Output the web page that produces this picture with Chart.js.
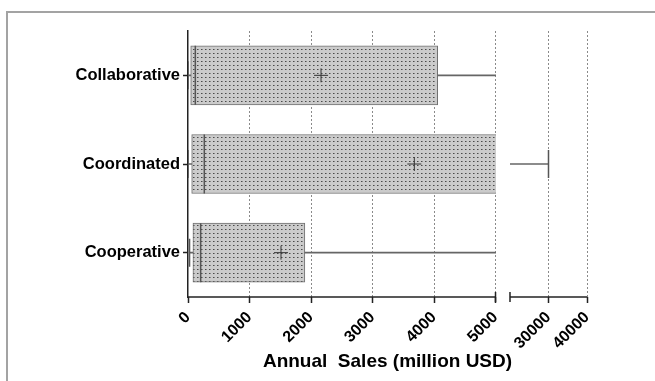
<!DOCTYPE html>
<html>
<head>
<meta charset="utf-8">
<script src="https://cdn.jsdelivr.net/npm/chart.js@4.4.1/dist/chart.umd.min.js"></script>
<style>
  html, body { margin: 0; padding: 0; background: #fff; }
  #wrap { position: relative; width: 655px; height: 381px; overflow: hidden; }
  #frame { position: absolute; left: 6px; top: 11px; width: 700px; height: 400px;
           border-left: 2px solid #a3a3a3; border-top: 2px solid #a3a3a3; }
  canvas { position: absolute; left: 0; top: 0; }
</style>
</head>
<body>
<div id="wrap">
  <div id="frame"></div>
  <canvas id="grafico" width="655" height="381"></canvas>
</div>
<script>
// dados (million USD)
const categorias = ["Collaborative", "Coordinated", "Cooperative"];
const minimos = [0, 0, 25];
const q1 = [44, 60, 80];
const medianas = [119, 265, 206];
const q3 = [4060, 9000, 1900];
const maximos = [12000, 30000, 14000];
const medias = [2163, 3680, 1512];

const tickValores = [0, 1000, 2000, 3000, 4000, 5000, 30000, 40000];
const quebra = [5000, 20000]; // eixo interrompido entre estes valores
const xMin = 0, xMax = 40000;
const fracQuebra = [0.7707, 0.807]; // fração da largura antes/depois da quebra

// escala linear com quebra
class BrokenScale extends Chart.LinearScale {
  static id = "broken";
  static defaults = { ticks: { callback: (v) => String(v) } };
  buildTicks() {
    return tickValores.map((v) => ({ value: v }));
  }
  getPixelForValue(v) {
    let f;
    if (v <= quebra[0]) f = (v - xMin) / (quebra[0] - xMin) * fracQuebra[0];
    else if (v >= quebra[1]) f = fracQuebra[1] + (v - quebra[1]) / (xMax - quebra[1]) * (1 - fracQuebra[1]);
    else f = fracQuebra[0] + (v - quebra[0]) / (quebra[1] - quebra[0]) * (fracQuebra[1] - fracQuebra[0]);
    return this.left + f * this.width;
  }
  getValueForPixel(p) {
    const f = (p - this.left) / this.width;
    if (f <= fracQuebra[0]) return xMin + f / fracQuebra[0] * (quebra[0] - xMin);
    if (f >= fracQuebra[1]) return quebra[1] + (f - fracQuebra[1]) / (1 - fracQuebra[1]) * (xMax - quebra[1]);
    return quebra[0] + (f - fracQuebra[0]) / (fracQuebra[1] - fracQuebra[0]) * (quebra[1] - quebra[0]);
  }
}
Chart.register(BrokenScale);

// textura pontilhada das caixas
function textura() {
  const c = document.createElement("canvas");
  c.width = 4; c.height = 4;
  const g = c.getContext("2d");
  g.fillStyle = "#cbcbcb";
  g.fillRect(0, 0, 4, 4);
  g.fillStyle = "#4a4a4a";
  g.fillRect(1, 1, 1, 1);
  g.fillStyle = "#888";
  g.fillRect(2, 1, 1, 1);
  return g.createPattern(c, "repeat");
}

// recorta os dados fora dos dois segmentos
const recorteQuebra = {
  id: "recorteQuebra",
  beforeDatasetsDraw(chart) {
    const x = chart.scales.x, a = chart.chartArea, ctx = chart.ctx;
    const p0 = x.getPixelForValue(quebra[0]), p1 = x.getPixelForValue(quebra[1]);
    ctx.save();
    ctx.beginPath();
    ctx.rect(a.left - 2, a.top, p0 - a.left + 2.5, a.bottom - a.top);
    ctx.rect(p1, a.top, a.right - p1 + 2, a.bottom - a.top);
    ctx.clip();
  },
  afterDatasetsDraw(chart) {
    chart.ctx.restore();
  },
};

// eixo x em dois pedaços
const eixoQuebrado = {
  id: "eixoQuebrado",
  afterDraw(chart) {
    const x = chart.scales.x, y = chart.chartArea.bottom, ctx = chart.ctx;
    ctx.save();
    ctx.strokeStyle = "#222";
    ctx.lineWidth = 1.5;
    [[xMin, quebra[0]], [quebra[1], xMax]].forEach(([a, b]) => {
      ctx.beginPath();
      ctx.moveTo(x.getPixelForValue(a), y);
      ctx.lineTo(x.getPixelForValue(b), y);
      ctx.stroke();
    });
    quebra.forEach((v) => {
      const p = x.getPixelForValue(v);
      ctx.beginPath();
      ctx.moveTo(p, y - 5);
      ctx.lineTo(p, y + 5);
      ctx.stroke();
    });
    ctx.restore();
  },
};

const pares = (a, b) => a.map((v, i) => [v, b[i]]);
const pontos = (vals) => vals.map((v, i) => ({ x: v, y: categorias[i] }));

const fonte = "'Liberation Sans', Arial, sans-serif";

new Chart(document.getElementById("grafico"), {
  type: "bar",
  data: {
    labels: categorias,
    datasets: [
      {
        type: "scatter",
        data: pontos(medias),
        pointStyle: "cross",
        radius: 7,
        borderColor: "#333",
        borderWidth: 1,
      },
      {
        type: "scatter",
        data: pontos(medianas),
        pointStyle: "line",
        rotation: 90,
        radius: 29.5,
        borderColor: "#555",
        borderWidth: 1.5,
      },
      {
        type: "scatter",
        data: pontos(minimos).concat(pontos(maximos)),
        pointStyle: "line",
        rotation: 90,
        radius: 14,
        borderColor: "#555",
        borderWidth: 1.5,
      },
      {
        data: pares(q3, maximos),
        backgroundColor: "#666",
        barThickness: 1,
        grouped: false,
      },
      {
        data: pares(minimos, q1),
        backgroundColor: "#666",
        barThickness: 1,
        grouped: false,
      },
      {
        data: pares(q1, q3),
        backgroundColor: textura(),
        borderColor: "#707070",
        borderWidth: 1,
        borderSkipped: false,
        barThickness: 59,
        grouped: false,
      },
    ],
  },
  plugins: [recorteQuebra, eixoQuebrado],
  options: {
    indexAxis: "y",
    responsive: false,
    animation: false,
    layout: { padding: { top: 31, right: 68, bottom: 0, left: 0 } },
    plugins: { legend: { display: false }, tooltip: { enabled: false } },
    scales: {
      x: {
        type: "broken",
        min: xMin,
        max: xMax,
        afterFit: (s) => { s.height = 84; },
        grid: {
          color: (c) => (c.tick && c.tick.value === 0 ? "rgba(0,0,0,0)" : "#8a8a8a"),
          lineWidth: 1,
          tickColor: "#222",
          tickWidth: 1.5,
          tickLength: 6,
        },
        border: { display: false, dash: [2, 2] },
        ticks: {
          autoSkip: false,
          minRotation: 45,
          maxRotation: 45,
          padding: 5,
          color: "#000",
          font: { family: fonte, size: 16, weight: "bold" },
        },
        title: {
          display: true,
          text: "Annual  Sales (million USD)",
          color: "#000",
          font: { family: fonte, size: 19, weight: "bold" },
          padding: { top: 0, bottom: 8 },
        },
      },
      y: {
        afterFit: (s) => { s.width = 188; },
        grid: {
          drawOnChartArea: false,
          offset: false,
          tickLength: 5,
          tickColor: "#222",
          tickWidth: 1.5,
        },
        border: { color: "#222", width: 1.5 },
        ticks: {
          padding: 3,
          color: "#000",
          font: { family: fonte, size: 16.5, weight: "bold" },
        },
      },
    },
  },
});
</script>
</body>
</html>
